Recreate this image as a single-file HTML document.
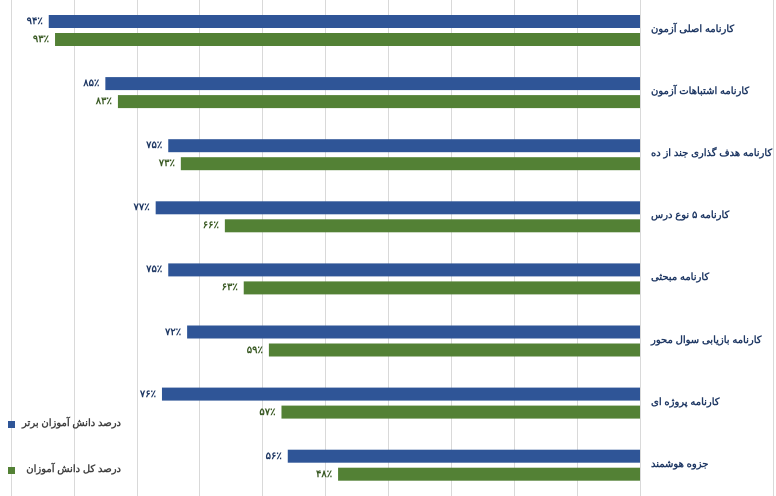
<!DOCTYPE html>
<html><head><meta charset="utf-8"><style>
body{margin:0;width:776px;height:496px;background:#fff;overflow:hidden;position:relative;font-family:"Liberation Sans","Noto Sans CJK SC",sans-serif}
.l{position:absolute;left:651px;direction:rtl;white-space:nowrap;font-size:10px;font-weight:bold;color:#1f3864;line-height:12px}
.v{position:absolute;direction:ltr;white-space:nowrap;font-size:10px;font-weight:bold;line-height:12px;text-align:right;width:40px}
.lg{position:absolute;direction:rtl;white-space:nowrap;font-size:10px;font-weight:bold;color:#404040;line-height:12px;right:655px}
</style></head><body>
<svg width="776" height="496" style="position:absolute;left:0;top:0">
<g stroke="#d9d9d9" stroke-width="1">
<line x1="11.5" y1="0" x2="11.5" y2="496"/><line x1="74.5" y1="0" x2="74.5" y2="496"/><line x1="137.5" y1="0" x2="137.5" y2="496"/><line x1="199.5" y1="0" x2="199.5" y2="496"/><line x1="262.5" y1="0" x2="262.5" y2="496"/><line x1="325.5" y1="0" x2="325.5" y2="496"/><line x1="388.5" y1="0" x2="388.5" y2="496"/><line x1="451.5" y1="0" x2="451.5" y2="496"/><line x1="514.5" y1="0" x2="514.5" y2="496"/><line x1="577.5" y1="0" x2="577.5" y2="496"/><line x1="640.5" y1="0" x2="640.5" y2="496"/><line x1="773.5" y1="0" x2="773.5" y2="496"/>
</g>
<g id="bars"></g>
<rect x="8" y="421" width="7" height="7" fill="#2f5597"/>
<rect x="8" y="467" width="7" height="7" fill="#538135"/>
</svg>
<div id="t"></div>
<div class="lg" style="top:418px">درصد دانش آموزان برتر</div>
<div class="lg" style="top:464px">درصد کل دانش آموزان</div>
<script>
var b=[94,85,75,77,75,72,76,56],g=[93,83,73,66,63,59,57,48];
var n=["کارنامه اصلی آزمون","کارنامه اشتباهات آزمون","کارنامه هدف گذاری جند از ده","کارنامه ۵ نوع درس","کارنامه مبحثی","کارنامه بازیابی سوال محور","کارنامه پروژه ای","جزوه هوشمند"];
var fa=function(x){return String(x).replace(/\d/g,function(d){return "۰۱۲۳۴۵۶۷۸۹"[d]})+"٪"};
var s="",h="";
for(var i=0;i<8;i++){var y=15+i*62.1;
var xb=640-b[i]*6.29,xg=640-g[i]*6.29;
s+='<rect x="'+xb+'" y="'+y+'" width="'+(640-xb)+'" height="13" fill="#2f5597"/>';
s+='<rect x="'+xg+'" y="'+(y+18)+'" width="'+(640-xg)+'" height="13" fill="#538135"/>';
h+='<div class="v" style="color:#1f3864;left:'+(xb-46)+'px;top:'+(y+1)+'px">'+fa(b[i])+'</div>';
h+='<div class="v" style="color:#3a5a24;left:'+(xg-46)+'px;top:'+(y+19)+'px">'+fa(g[i])+'</div>';
h+='<div class="l" style="top:'+(y+9)+'px">'+n[i]+'</div>';}
document.getElementById("bars").innerHTML=s;document.getElementById("t").innerHTML=h;
</script>
</body></html>
